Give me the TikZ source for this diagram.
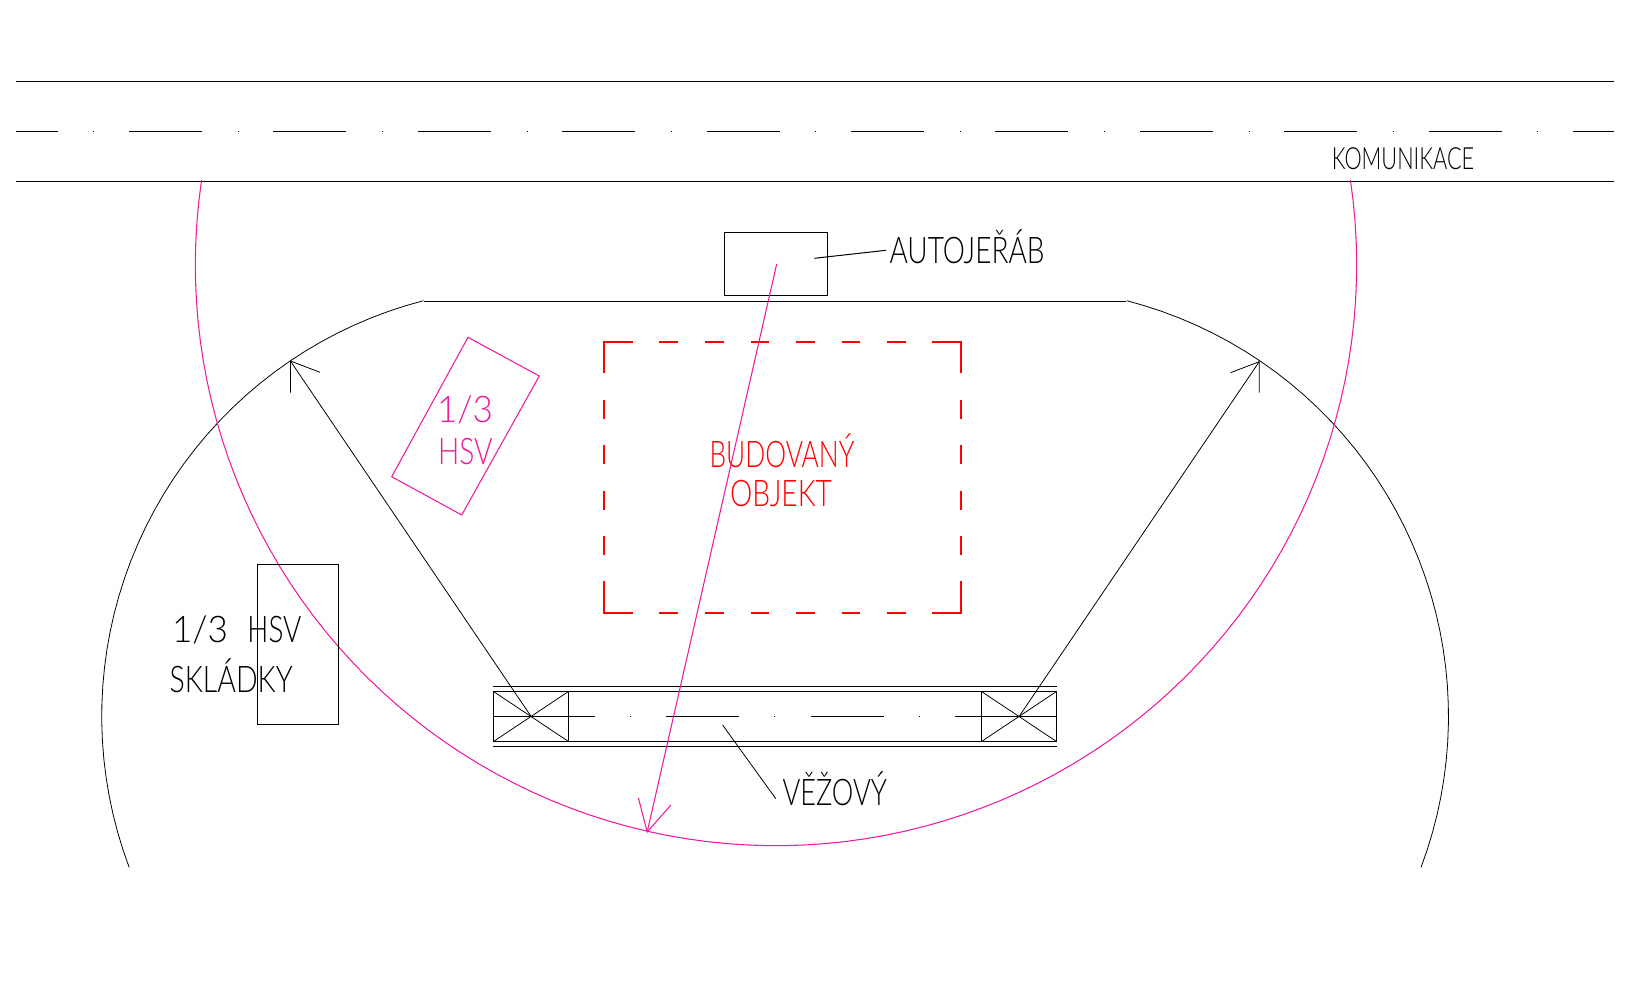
\documentclass[tikz,border=0pt]{standalone}
\usepackage{fontspec}
\usepackage{graphicx}
\setmainfont{Lato Light}
\definecolor{hsvpink}{HTML}{EE1C9C}
\definecolor{objred}{HTML}{FF0000}
\tikzset{
  blk/.style={draw=black,line width=0.57pt},
  thn/.style={draw=black,line width=0.45pt},
  pnk/.style={draw=hsvpink,line width=0.6pt},
  rd/.style={draw=objred,line width=1.14pt,line cap=butt,line join=miter},
  lbl/.style={anchor=base west,inner sep=0pt,outer sep=0pt},
  box/.style={blk,rectangle,inner sep=0pt,outer sep=0pt,anchor=north west},
  big/.style={lbl,font=\fontsize{20.9}{24}\selectfont},
  small/.style={lbl,font=\fontsize{17.4}{20}\selectfont}
}
\begin{document}
\begin{tikzpicture}[x=0.02cm,y=-0.02cm]
\useasboundingbox (0,0) rectangle (1650,1000);
\fill[white] (0,0) rectangle (1650,1000);
% road
\coordinate (rtl) at (16,81.5); \coordinate (rtr) at (1614,81.5);
\coordinate (rbl) at (16,181.5); \coordinate (rbr) at (1614,181.5);
\draw[blk] (rtl) -- (rtr);
\draw[blk] (rbl) -- (rbr);
\draw[blk] (16,131.5) -- (58,131.5);
\foreach \k in {0,...,9}{
  \draw[blk] ({129+144.4*\k},131.5) -- ({202+144.4*\k},131.5);
}
\draw[blk] (1573,131.5) -- (1614,131.5);
\foreach \k in {0,...,10}{
  \pgfmathsetmacro{\dotx}{round(93.4+144.4*\k)}
  \fill[black] (\dotx,131) rectangle ++(1,1);
}
\node[small] (kom) at (1331.8,169.5) {\resizebox{2.85cm}{\height}{KOMUNIKACE}};
% big black outline
\coordinate (cL) at (531,716.3);
\coordinate (cR) at (1019.2,716.3);
\coordinate (jL) at (424,301.5);
\coordinate (jR) at (1126.3,301.5);
\draw[thn] plot[domain=159.4:255.5,samples=40] ({531+429.3*cos(\x)},{716.3+429.3*sin(\x)});
\draw[thn] plot[domain=284.5:380.6,samples=40] ({1019.2+429.3*cos(\x)},{716.3+429.3*sin(\x)});
\draw[blk] (jL) -- (jR);
% pink reach circle
\draw[pnk] plot[domain=188.4:-8.4,samples=100] ({776+580.7*cos(\x)},{265+580.7*sin(\x)});
% autocrane
\node[box,minimum width=2.06cm,minimum height=1.26cm] (acr) at (724.5,232.5) {};
\coordinate (acrL) at (814.3,258.3);
\coordinate (acrT) at (886,250.3);
\draw[blk] (acrL) -- (acrT);
\node[big] (aut) at (889.5,264) {\resizebox{3.10cm}{\height}{AUTOJEŘÁB}};
% red object
\foreach \a/\b in {659.3/678,705/724,750.7/769,796.3/815,841.7/860,887.3/906}{
  \draw[rd] (\a,341.7) -- (\b,341.7);
  \draw[rd] (\a,612.7) -- (\b,612.7);
}
\foreach \a/\b in {400.3/418.7,445.3/463.7,491.3/509.7,536/554.7}{
  \draw[rd] (604,\a) -- (604,\b);
  \draw[rd] (961,\a) -- (961,\b);
}
\draw[rd] (604,372.7) -- (604,341.7) -- (632.7,341.7);
\draw[rd] (932.3,341.7) -- (961,341.7) -- (961,372.7);
\draw[rd] (604,581.3) -- (604,612.7) -- (632.7,612.7);
\draw[rd] (932.3,612.7) -- (961,612.7) -- (961,581.3);
\node[big,text=objred] (bud) at (709.5,467.7) {\resizebox{2.90cm}{\height}{BUDOVANÝ}};
\node[big,text=objred] (obj) at (730,506) {\resizebox{2.04cm}{\height}{OBJEKT}};
% pink rotated stock
\draw[pnk,line join=miter] (468,337.3) -- (539.3,376) -- (461.7,515) -- (391.7,476.7) -- cycle;
\node[big,text=hsvpink] (p13) at (437,422.7) {\resizebox{1.12cm}{\height}{1/3}};
\node[big,text=hsvpink] (phsv) at (438,464) {\resizebox{1.09cm}{\height}{HSV}};
% black stock rectangle
\node[box,minimum width=1.62cm,minimum height=3.2cm] (skl) at (257.5,564.5) {};
\node[big] (t13) at (172,642.7) {\resizebox{1.12cm}{\height}{1/3}\hspace{0.39cm}\resizebox{1.08cm}{\height}{HSV}};
\node[big] (tskl) at (169.7,692) {\resizebox{2.46cm}{\height}{SKLÁDKY}};
% tower crane track
\draw[blk] (493.3,686.5) -- (1056.7,686.5);
\draw[blk] (493.3,746.5) -- (1056.7,746.5);
\draw[blk] (493.5,691.5) rectangle (1056.5,741.5);
\draw[blk] (568.5,691.5) -- (568.5,741.5);
\draw[blk] (981.5,691.5) -- (981.5,741.5);
\draw[thn] (493.5,691.5) -- (568.5,741.5);
\draw[thn] (493.5,741.5) -- (568.5,691.5);
\draw[thn] (981.5,691.5) -- (1056.5,741.5);
\draw[thn] (981.5,741.5) -- (1056.5,691.5);
\draw[blk] (493.3,716.5) -- (595,716.5);
\draw[blk] (666,716.5) -- (739,716.5);
\draw[blk] (811,716.5) -- (884,716.5);
\draw[blk] (955,716.5) -- (1056.7,716.5);
\foreach \px in {630,774,919}{
  \fill[black] (\px,716) rectangle ++(1,1);
}
% black arrows
\coordinate (tL) at (290.4,361);
\coordinate (tR) at (1259.2,361.7);
\draw[thn] (cL) -- (tL);
\draw[thn] (cR) -- (tR);
\draw[thn] (290.4,392.5) -- (tL) -- (320,372.3);
\draw[thn] (1230.5,372.7) -- (tR) -- (1259.2,392.5);
% pink arrow
\coordinate (pS) at (776.7,264);
\coordinate (pT) at (647.2,832);
\draw[pnk] (pS) -- (pT);
\draw[pnk] (638.4,798) -- (pT) -- (670.9,805);
% tower label
\coordinate (vA) at (722.6,725);
\coordinate (vB) at (775.8,798.7);
\draw[thn] (vA) -- (vB);
\node[big] (vez) at (782.5,805.7) {\resizebox{2.09cm}{\height}{VĚŽOVÝ}};
\end{tikzpicture}
\end{document}
